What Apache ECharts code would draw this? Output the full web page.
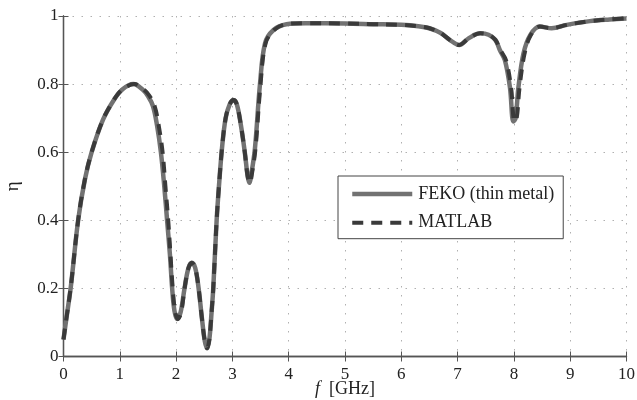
<!DOCTYPE html>
<html>
<head>
<meta charset="utf-8">
<script src="https://cdn.jsdelivr.net/npm/echarts@6/dist/echarts.min.js"></script>
<style>
  html, body { margin: 0; padding: 0; background: #fff; }
  #chart { width: 637px; height: 400px; }
</style>
</head>
<body>
<div id="chart"></div>
<script>
// Frequency samples (GHz) and efficiency η for the two solvers
const freqFeko = [0, 0.05, 0.13, 0.26, 0.38, 0.50, 0.70, 0.90, 1.05, 1.24, 1.40, 1.50, 1.59, 1.66, 1.73, 1.79, 1.84, 1.89, 1.93, 1.97, 2.02, 2.08, 2.15, 2.22, 2.28, 2.34, 2.40, 2.46, 2.51, 2.55, 2.59, 2.63, 2.66, 2.72, 2.77, 2.82, 2.88, 2.95, 3.02, 3.08, 3.15, 3.22, 3.27, 3.30, 3.34, 3.40, 3.49, 3.58, 3.73, 3.96, 4.3, 5.0, 5.5, 6.0, 6.3, 6.5, 6.7, 6.86, 7.03, 7.2, 7.40, 7.55, 7.67, 7.75, 7.84, 7.93, 7.99, 8.03, 8.08, 8.17, 8.29, 8.46, 8.67, 8.94, 9.35, 9.7, 10];
const etaFeko = [0.05, 0.11, 0.205, 0.40, 0.52, 0.60, 0.695, 0.755, 0.785, 0.80, 0.785, 0.765, 0.735, 0.68, 0.60, 0.50, 0.40, 0.30, 0.20, 0.135, 0.11, 0.13, 0.20, 0.26, 0.275, 0.26, 0.20, 0.11, 0.045, 0.024, 0.05, 0.13, 0.20, 0.40, 0.52, 0.62, 0.70, 0.74, 0.753, 0.74, 0.68, 0.60, 0.53, 0.51, 0.54, 0.61, 0.80, 0.92, 0.959, 0.976, 0.979, 0.978, 0.976, 0.974, 0.97, 0.964, 0.95, 0.93, 0.915, 0.935, 0.949, 0.945, 0.93, 0.90, 0.87, 0.79, 0.69, 0.70, 0.79, 0.89, 0.944, 0.969, 0.964, 0.974, 0.985, 0.99, 0.993];

const freqMatlab = [0, 0.05, 0.13, 0.26, 0.38, 0.50, 0.70, 0.90, 1.05, 1.26, 1.42, 1.53, 1.62, 1.69, 1.76, 1.81, 1.86, 1.90, 1.94, 1.98, 2.03, 2.09, 2.15, 2.22, 2.28, 2.34, 2.40, 2.46, 2.51, 2.55, 2.59, 2.63, 2.66, 2.72, 2.77, 2.82, 2.88, 2.95, 3.02, 3.08, 3.15, 3.22, 3.27, 3.31, 3.35, 3.41, 3.50, 3.59, 3.74, 3.96, 4.3, 5.0, 5.5, 6.0, 6.3, 6.5, 6.7, 6.86, 7.03, 7.2, 7.40, 7.55, 7.67, 7.76, 7.86, 7.95, 8.01, 8.05, 8.10, 8.19, 8.30, 8.46, 8.67, 8.94, 9.35, 9.7, 10];
const etaMatlab = [0.05, 0.11, 0.205, 0.40, 0.52, 0.60, 0.695, 0.755, 0.785, 0.80, 0.785, 0.765, 0.735, 0.68, 0.60, 0.50, 0.40, 0.30, 0.20, 0.135, 0.11, 0.13, 0.20, 0.26, 0.275, 0.26, 0.20, 0.11, 0.045, 0.024, 0.05, 0.13, 0.20, 0.40, 0.52, 0.62, 0.70, 0.74, 0.753, 0.74, 0.68, 0.60, 0.53, 0.51, 0.54, 0.61, 0.80, 0.92, 0.959, 0.976, 0.979, 0.978, 0.976, 0.974, 0.97, 0.964, 0.95, 0.93, 0.915, 0.935, 0.949, 0.945, 0.93, 0.90, 0.87, 0.79, 0.69, 0.70, 0.79, 0.89, 0.944, 0.969, 0.964, 0.974, 0.985, 0.99, 0.993];

const xTicks = [0, 1, 2, 3, 4, 5, 6, 7, 8, 9, 10];
const yTicks = [0, 0.2, 0.4, 0.6, 0.8, 1];
const seriesNames = ['FEKO (thin metal)', 'MATLAB'];

const pairs = (xs, ys) => xs.map((x, i) => [x, ys[i]]);

const FONT = '"Liberation Serif", "DejaVu Serif", serif';
const TEXT_COLOR = '#222';
const AXIS_COLOR = '#555';
const FEKO_COLOR = '#727272';
const MATLAB_COLOR = '#3a3a3a';
const FEKO_LINE = { color: FEKO_COLOR, width: 4.5 };
const MATLAB_LINE = { color: MATLAB_COLOR, width: 4, type: [11, 8] };
const gridLine = { show: true, lineStyle: { color: '#b0b0b0', width: 1, type: [1.5, 7.5] } };

const chart = echarts.init(document.getElementById('chart'), null, { renderer: 'canvas' });

const baseX = {
  type: 'value', min: xTicks[0], max: xTicks[xTicks.length - 1], interval: 1,
  axisLine: { show: true, lineStyle: { color: AXIS_COLOR, width: 1.3 } },
  axisTick: { show: true, inside: true, length: 5, lineStyle: { color: AXIS_COLOR } }
};
const baseY = {
  type: 'value', min: yTicks[0], max: yTicks[yTicks.length - 1], interval: 0.2,
  axisLine: { show: true, lineStyle: { color: AXIS_COLOR, width: 1.3 } },
  axisTick: { show: true, inside: true, length: 5, lineStyle: { color: AXIS_COLOR } }
};

chart.setOption({
  animation: false,
  backgroundColor: '#fff',
  grid: { left: 63.5, right: 10.5, top: 16, bottom: 43.5, containLabel: false, outerBoundsMode: 'none' },
  xAxis: [
    Object.assign({}, baseX, {
      position: 'bottom',
      splitLine: gridLine,
      axisLabel: { color: TEXT_COLOR, fontFamily: FONT, fontSize: 17, margin: 10 },
      name: '{i|f}  [GHz]',
      nameLocation: 'middle',
      nameGap: 24,
      nameMoveOverlap: false,
      nameTextStyle: {
        color: TEXT_COLOR, fontFamily: FONT, fontSize: 18,
        rich: { i: { fontStyle: 'italic', fontFamily: FONT, fontSize: 18, color: TEXT_COLOR } }
      }
    }),
    Object.assign({}, baseX, {
      position: 'top', splitLine: { show: false }, axisLabel: { show: false }
    })
  ],
  yAxis: [
    Object.assign({}, baseY, {
      position: 'left',
      splitLine: gridLine,
      axisLabel: { color: TEXT_COLOR, fontFamily: FONT, fontSize: 17, margin: 5 },
      name: 'η',
      nameLocation: 'middle',
      nameRotate: 90,
      nameGap: 41,
      nameMoveOverlap: false,
      nameTextStyle: { color: TEXT_COLOR, fontFamily: FONT, fontSize: 19 }
    }),
    Object.assign({}, baseY, {
      position: 'right', splitLine: { show: false }, axisLabel: { show: false }
    })
  ],
  legend: {
    left: 338, top: 176,
    orient: 'vertical',
    data: [
      { name: seriesNames[0], itemStyle: { opacity: 0 }, lineStyle: FEKO_LINE },
      { name: seriesNames[1], itemStyle: { opacity: 0 }, lineStyle: MATLAB_LINE }
    ],
    backgroundColor: '#fff',
    borderColor: '#444', borderWidth: 1,
    padding: [9, 9, 7, 12],
    itemGap: 10.7,
    itemWidth: 60, itemHeight: 18,
    textStyle: { color: TEXT_COLOR, fontFamily: FONT, fontSize: 18, padding: [0, 0, 0, 1], width: 144 }
  },
  series: [
    {
      name: seriesNames[0], type: 'line', data: pairs(freqFeko, etaFeko),
      smooth: 0.35, showSymbol: false, symbol: 'none',
      lineStyle: FEKO_LINE,
      itemStyle: { color: FEKO_COLOR },
      z: 2
    },
    {
      name: seriesNames[1], type: 'line', data: pairs(freqMatlab, etaMatlab),
      smooth: 0.35, showSymbol: false, symbol: 'none',
      lineStyle: MATLAB_LINE,
      itemStyle: { color: MATLAB_COLOR },
      z: 3
    }
  ]
});
</script>
</body>
</html>
